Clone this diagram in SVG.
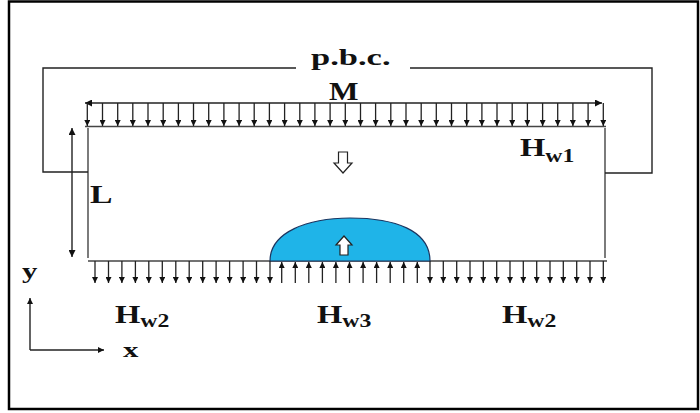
<svg xmlns="http://www.w3.org/2000/svg" width="700" height="413" viewBox="0 0 700 413">
<defs>
<marker id="ah" viewBox="0 0 10 10" refX="10" refY="5" markerWidth="6" markerHeight="6" orient="auto" markerUnits="userSpaceOnUse"><path d="M0,0 L10,5 L0,10 z" fill="#111"/></marker>
<marker id="ah2" viewBox="0 0 10 10" refX="10" refY="5" markerWidth="7" markerHeight="7" orient="auto-start-reverse" markerUnits="userSpaceOnUse"><path d="M0,0 L10,5 L0,10 z" fill="#111"/></marker>
<style>
.frame{fill:none;stroke:#000;stroke-width:2.5}
.ln{fill:none;stroke:#222;stroke-width:1.4}
.dom{fill:none;stroke:#444;stroke-width:1.4}
.ar{stroke:#222;stroke-width:1.3;marker-end:url(#ah)}
.dbl{fill:none;stroke:#222;stroke-width:1.4;marker-start:url(#ah2);marker-end:url(#ah2)}
.lab{font-family:"Liberation Serif","Times New Roman",serif;font-weight:bold;fill:#111}
.hollow{fill:#fff;stroke:#222;stroke-width:1.2}
</style>
</defs>
<rect class="frame" x="9" y="1.5" width="689" height="407.5"/>

<g id="domain">
<line class="dom" x1="88" y1="128" x2="88" y2="258"/>
<line class="dom" x1="605" y1="128" x2="605" y2="258"/>
<line class="dom" x1="85" y1="126.5" x2="606" y2="126.5"/>
<line class="dom" x1="88" y1="261" x2="607" y2="261"/>
</g>

<g id="droplet">
<path d="M270,261 C270,232 308,218 350,218 C394,218 430,230 430,261 Z" fill="#1FB4E8" stroke="#1b3560" stroke-width="1.2"/>
<path class="hollow" d="M344,236 L352,245 L348,245 L348,255 L340,255 L340,245 L336,245 Z"/>
</g>

<g id="down-arrow">
<path class="hollow" d="M338.5,152 L347.5,152 L347.5,163 L352,163 L343,173 L334,163 L338.5,163 Z"/>
</g>

<g id="pbc">
<polyline class="ln" points="296,68 43,68 43,172 88,172"/>
<polyline class="ln" points="410,68 652,68 652,173 605,173"/>
<text class="lab" transform="translate(311,65) scale(1.5,1)" font-size="23">p.b.c.</text>
</g>

<g id="connectors">
<line class="dbl" x1="85" y1="103" x2="602" y2="103"/>
<line class="dbl" x1="72" y1="128" x2="72" y2="257"/>
<line class="ln" x1="30" y1="350" x2="30" y2="298" style="marker-end:url(#ah)"/>
<line class="ln" x1="30" y1="350" x2="104" y2="350" style="marker-end:url(#ah)"/>
<g id="top-arrows">
<line class="ar" x1="87.3" y1="103" x2="87.3" y2="126"/>
<line class="ar" x1="102.5" y1="103" x2="102.5" y2="126"/>
<line class="ar" x1="117.7" y1="103" x2="117.7" y2="126"/>
<line class="ar" x1="132.8" y1="103" x2="132.8" y2="126"/>
<line class="ar" x1="148" y1="103" x2="148" y2="126"/>
<line class="ar" x1="163.2" y1="103" x2="163.2" y2="126"/>
<line class="ar" x1="178.4" y1="103" x2="178.4" y2="126"/>
<line class="ar" x1="193.5" y1="103" x2="193.5" y2="126"/>
<line class="ar" x1="208.7" y1="103" x2="208.7" y2="126"/>
<line class="ar" x1="223.9" y1="103" x2="223.9" y2="126"/>
<line class="ar" x1="239.1" y1="103" x2="239.1" y2="126"/>
<line class="ar" x1="254.2" y1="103" x2="254.2" y2="126"/>
<line class="ar" x1="269.4" y1="103" x2="269.4" y2="126"/>
<line class="ar" x1="284.6" y1="103" x2="284.6" y2="126"/>
<line class="ar" x1="299.8" y1="103" x2="299.8" y2="126"/>
<line class="ar" x1="314.9" y1="103" x2="314.9" y2="126"/>
<line class="ar" x1="330.1" y1="103" x2="330.1" y2="126"/>
<line class="ar" x1="345.3" y1="103" x2="345.3" y2="126"/>
<line class="ar" x1="360.5" y1="103" x2="360.5" y2="126"/>
<line class="ar" x1="375.6" y1="103" x2="375.6" y2="126"/>
<line class="ar" x1="390.8" y1="103" x2="390.8" y2="126"/>
<line class="ar" x1="406" y1="103" x2="406" y2="126"/>
<line class="ar" x1="421.2" y1="103" x2="421.2" y2="126"/>
<line class="ar" x1="436.3" y1="103" x2="436.3" y2="126"/>
<line class="ar" x1="451.5" y1="103" x2="451.5" y2="126"/>
<line class="ar" x1="466.7" y1="103" x2="466.7" y2="126"/>
<line class="ar" x1="481.9" y1="103" x2="481.9" y2="126"/>
<line class="ar" x1="497" y1="103" x2="497" y2="126"/>
<line class="ar" x1="512.2" y1="103" x2="512.2" y2="126"/>
<line class="ar" x1="527.4" y1="103" x2="527.4" y2="126"/>
<line class="ar" x1="542.6" y1="103" x2="542.6" y2="126"/>
<line class="ar" x1="557.7" y1="103" x2="557.7" y2="126"/>
<line class="ar" x1="572.9" y1="103" x2="572.9" y2="126"/>
<line class="ar" x1="588.1" y1="103" x2="588.1" y2="126"/>
<line class="ar" x1="603.3" y1="103" x2="603.3" y2="126"/>
</g>
<g id="bottom-left-arrows">
<line class="ar" x1="95" y1="261" x2="95" y2="283"/>
<line class="ar" x1="108.5" y1="261" x2="108.5" y2="283"/>
<line class="ar" x1="121.9" y1="261" x2="121.9" y2="283"/>
<line class="ar" x1="135.4" y1="261" x2="135.4" y2="283"/>
<line class="ar" x1="148.8" y1="261" x2="148.8" y2="283"/>
<line class="ar" x1="162.3" y1="261" x2="162.3" y2="283"/>
<line class="ar" x1="175.8" y1="261" x2="175.8" y2="283"/>
<line class="ar" x1="189.2" y1="261" x2="189.2" y2="283"/>
<line class="ar" x1="202.7" y1="261" x2="202.7" y2="283"/>
<line class="ar" x1="216.1" y1="261" x2="216.1" y2="283"/>
<line class="ar" x1="229.6" y1="261" x2="229.6" y2="283"/>
<line class="ar" x1="243.1" y1="261" x2="243.1" y2="283"/>
<line class="ar" x1="256.5" y1="261" x2="256.5" y2="283"/>
<line class="ar" x1="270" y1="261" x2="270" y2="283"/>
</g>
<g id="bottom-up-arrows">
<line class="ar" x1="281.7" y1="283" x2="281.7" y2="262"/>
<line class="ar" x1="295.3" y1="283" x2="295.3" y2="262"/>
<line class="ar" x1="308.8" y1="283" x2="308.8" y2="262"/>
<line class="ar" x1="322.4" y1="283" x2="322.4" y2="262"/>
<line class="ar" x1="335.9" y1="283" x2="335.9" y2="262"/>
<line class="ar" x1="349.5" y1="283" x2="349.5" y2="262"/>
<line class="ar" x1="363.1" y1="283" x2="363.1" y2="262"/>
<line class="ar" x1="376.6" y1="283" x2="376.6" y2="262"/>
<line class="ar" x1="390.2" y1="283" x2="390.2" y2="262"/>
<line class="ar" x1="403.7" y1="283" x2="403.7" y2="262"/>
<line class="ar" x1="417.3" y1="283" x2="417.3" y2="262"/>
</g>
<g id="bottom-right-arrows">
<line class="ar" x1="430" y1="261" x2="430" y2="283"/>
<line class="ar" x1="443.3" y1="261" x2="443.3" y2="283"/>
<line class="ar" x1="456.7" y1="261" x2="456.7" y2="283"/>
<line class="ar" x1="470" y1="261" x2="470" y2="283"/>
<line class="ar" x1="483.3" y1="261" x2="483.3" y2="283"/>
<line class="ar" x1="496.7" y1="261" x2="496.7" y2="283"/>
<line class="ar" x1="510" y1="261" x2="510" y2="283"/>
<line class="ar" x1="523.3" y1="261" x2="523.3" y2="283"/>
<line class="ar" x1="536.7" y1="261" x2="536.7" y2="283"/>
<line class="ar" x1="550" y1="261" x2="550" y2="283"/>
<line class="ar" x1="563.3" y1="261" x2="563.3" y2="283"/>
<line class="ar" x1="576.7" y1="261" x2="576.7" y2="283"/>
<line class="ar" x1="590" y1="261" x2="590" y2="283"/>
<line class="ar" x1="603.3" y1="261" x2="603.3" y2="283"/>
</g>
</g>

<g id="labels">
<text class="lab" transform="translate(329,100) scale(1.2,1)" font-size="26">M</text>
<text class="lab" transform="translate(90,203) scale(1.35,1)" font-size="25">L</text>
<text class="lab" transform="translate(520,156) scale(1.25,1)" font-size="26">H<tspan dy="6" font-size="19">w1</tspan></text>
<text class="lab" transform="translate(115,323) scale(1.25,1)" font-size="26">H<tspan dy="4" font-size="19">w2</tspan></text>
<text class="lab" transform="translate(317,323) scale(1.25,1)" font-size="26">H<tspan dy="4" font-size="19">w3</tspan></text>
<text class="lab" transform="translate(502,323) scale(1.25,1)" font-size="26">H<tspan dy="4" font-size="19">w2</tspan></text>
<text class="lab" transform="translate(22,278) scale(1.4,1)" font-size="22">y</text>
<text class="lab" transform="translate(123,357) scale(1.4,1)" font-size="22">x</text>
</g>
</svg>
